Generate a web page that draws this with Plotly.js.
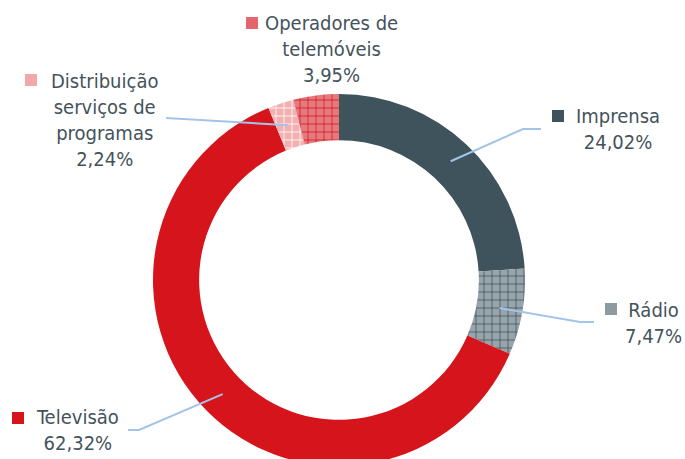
<!DOCTYPE html>
<html>
<head>
<meta charset="utf-8">
<script src="https://cdn.plot.ly/plotly-3.0.1.min.js"></script>
<style>
html,body{margin:0;padding:0;overflow:hidden;background:#fff;width:685px;height:459px;}
#chart{width:685px;height:480px;}
</style>
</head>
<body>
<div id="chart"></div>
<script>
// ---- data ----
const categories = ["Imprensa", "Rádio", "Televisão", "Distribuição serviços de programas", "Operadores de telemóveis"];
const shares = [24.02, 7.47, 62.32, 2.24, 3.95];
const labelLines = [
  ["Imprensa"],
  ["Rádio"],
  ["Televisão"],
  ["Distribuição", "serviços de", "programas"],
  ["Operadores de", "telemóveis"]
];

// ---- styling / layout ----
const W = 685, H = 480;
const CX = 339, CY = 280, R = 186, HOLE = 0.752;
const px = x => x / W;
const py = y => 1 - y / H;

const baseColors = ["#3e535b", "#97a4aa", "#d5141b", "#f3b0b2", "#e47a7e"];
const patShapes = ["", "+", "", "+", "+"];
const patFg = ["#3e535b", "#3e535b", "#d5141b", "#ffffff", "#d5141b"];
const patBg = ["#3e535b", "#97a4aa", "#d5141b", "#f3b0b2", "#e47a7e"];
const keyColors = ["#3e535b", "#8d9aa0", "#d5141b", "#f2a8aa", "#e4666a"];

// label placement (pixel centres of text blocks), key squares, leader elbows
const labelPos = [
  {x: 618, y: 129}, {x: 653, y: 323}, {x: 77, y: 430}, {x: 104, y: 120}, {x: 331, y: 49}
];
const keyPos = [
  {x: 552, y: 110}, {x: 605, y: 303}, {x: 12, y: 412}, {x: 25, y: 74}, {x: 246, y: 17}
];
const leaderEnds = [
  [{x: 523, y: 129}, {x: 541, y: 129}],
  [{x: 580, y: 322}, {x: 594, y: 322}],
  [{x: 139, y: 430}, {x: 128, y: 430}],
  [{x: 166, y: 118}],
  null
];

const fontFam = "'Liberation Sans Narrow', 'DejaVu Sans Condensed', 'Roboto', sans-serif";
const textColor = "#44535b";

const trace = {
  type: "pie",
  labels: categories,
  values: shares,
  sort: false,
  direction: "clockwise",
  rotation: 0,
  hole: HOLE,
  textinfo: "none",
  hoverinfo: "label+percent",
  showlegend: false,
  domain: {x: [px(CX - R), px(CX + R)], y: [py(CY + R), py(CY - R)]},
  marker: {
    colors: baseColors,
    line: {width: 0},
    pattern: {shape: patShapes, fgcolor: patFg, bgcolor: patBg, size: 8, solidity: 0.18, fillmode: "replace"}
  }
};

const fmt = v => v.toFixed(2).replace(".", ",") + "%";
const total = shares.reduce((a, b) => a + b, 0);

const annotations = [];
const shapes = [];
let cum = 0;
categories.forEach((c, i) => {
  const mid = (cum + shares[i] / 2) / total * 2 * Math.PI;
  cum += shares[i];
  const lines = labelLines[i].concat([fmt(shares[i])]);
  annotations.push({
    xref: "paper", yref: "paper",
    x: px(labelPos[i].x), y: py(labelPos[i].y),
    xanchor: "center", yanchor: "middle",
    text: lines.join("<br>"), showarrow: false, align: "center",
    font: {family: fontFam, size: 20, color: textColor}
  });
  shapes.push({
    type: "rect", xref: "paper", yref: "paper",
    x0: px(keyPos[i].x), x1: px(keyPos[i].x + 12),
    y0: py(keyPos[i].y), y1: py(keyPos[i].y + 12),
    fillcolor: keyColors[i], line: {width: 0}
  });
  if (leaderEnds[i]) {
    const rr = 163;
    const ax = CX + rr * Math.sin(mid), ay = CY - rr * Math.cos(mid);
    let path = `M ${px(ax)} ${py(ay)}`;
    leaderEnds[i].forEach(p => { path += ` L ${px(p.x)} ${py(p.y)}`; });
    shapes.push({type: "path", xref: "paper", yref: "paper", path: path,
      line: {color: "#a3c4e8", width: 2}});
  }
});

const layout = {
  width: W, height: H,
  margin: {l: 0, r: 0, t: 0, b: 0},
  paper_bgcolor: "#ffffff",
  plot_bgcolor: "#ffffff",
  annotations: annotations,
  shapes: shapes
};

Plotly.newPlot("chart", [trace], layout, {displayModeBar: false, staticPlot: true});
</script>
</body>
</html>
